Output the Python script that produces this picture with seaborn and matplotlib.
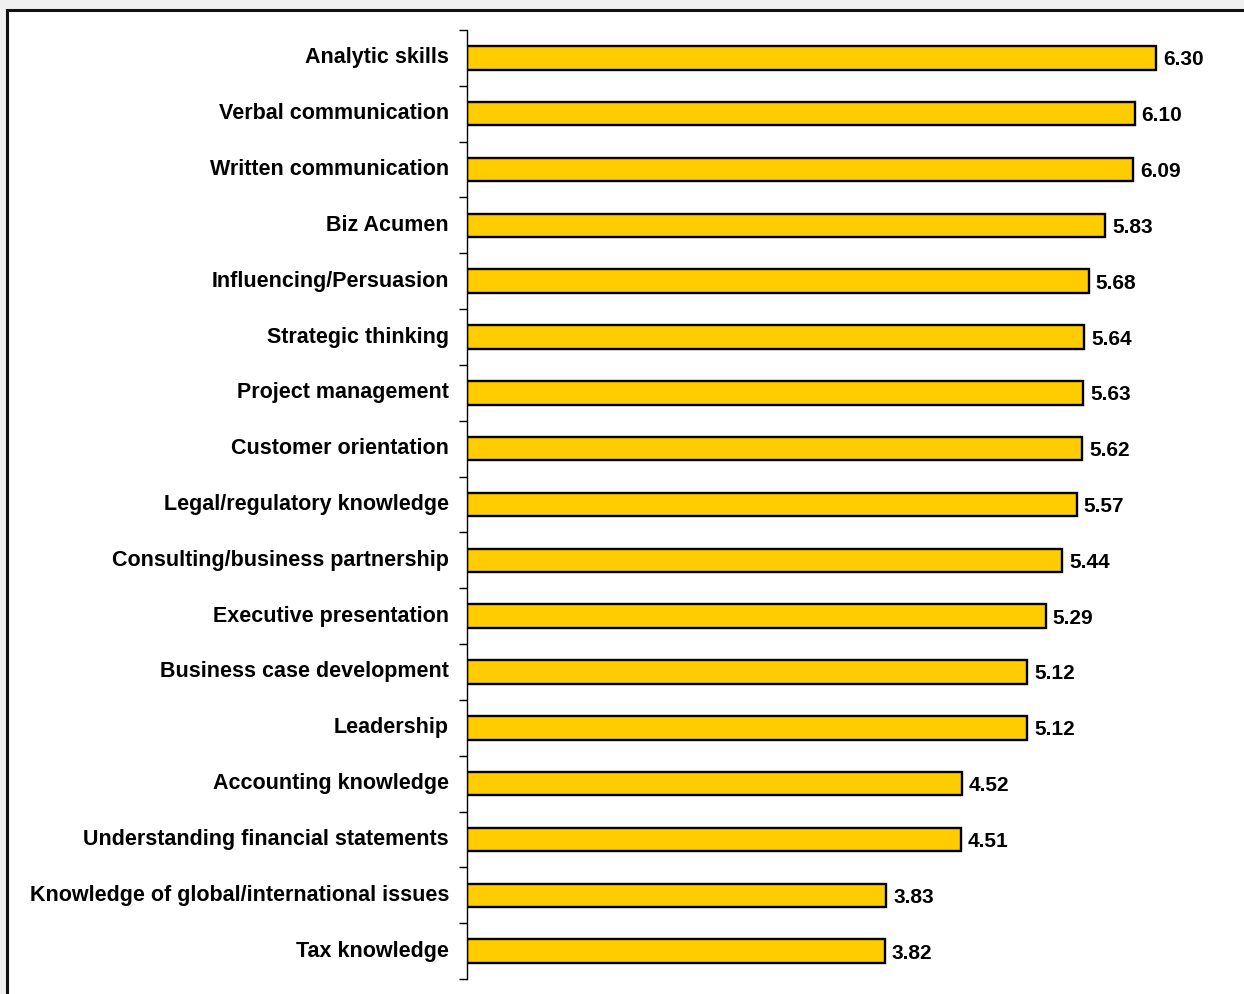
import matplotlib
matplotlib.use("Agg")
import matplotlib.pyplot as plt
import matplotlib.transforms as mtransforms
import seaborn as sns
import pandas as pd
from matplotlib.patches import Rectangle

categories = ["Analytic skills", "Verbal communication", "Written communication", "Biz Acumen",
              "Influencing/Persuasion", "Strategic thinking", "Project management",
              "Customer orientation", "Legal/regulatory knowledge",
              "Consulting/business partnership", "Executive presentation",
              "Business case development", "Leadership", "Accounting knowledge",
              "Understanding financial statements",
              "Knowledge of global/international issues", "Tax knowledge"]
values = [6.30, 6.10, 6.09, 5.83, 5.68, 5.64, 5.63, 5.62, 5.57, 5.44, 5.29, 5.12, 5.12,
          4.52, 4.51, 3.83, 3.82]

sns.set_theme(style="white")
plt.rcParams['font.family'] = ['Liberation Sans', 'DejaVu Sans']

df = pd.DataFrame({"skill": categories, "score": values})

W, H = 1244, 994
fig = plt.figure(figsize=(W / 100, H / 100), dpi=100)
fig.patch.set_facecolor("#F0F0F0")
frame = Rectangle((7.5 / W, -0.1), 1.2, 1 - 10 / H + 0.1,
                  transform=fig.transFigure, facecolor="white",
                  edgecolor="#111111", linewidth=2.2, zorder=-10)
fig.patches.append(frame)

ax = fig.add_axes([467 / W, 1 - 979 / H, 766 / W, 949 / H])
ax.set_zorder(5)
ax.set_facecolor("none")
sns.barplot(data=df, y="skill", x="score", orient="h", color="#FFCC00",
            saturation=1, width=0.42, edgecolor="black", linewidth=1.7, ax=ax)

ax.set_xlim(0, 7)
ax.set_ylim(len(categories) - 0.5, -0.5)
ax.set_xlabel("")
ax.set_ylabel("")
ax.set_xticks([])
for s in ["top", "right", "bottom"]:
    ax.spines[s].set_visible(False)
ax.spines["left"].set_color("black")
ax.spines["left"].set_linewidth(1.0)

ax.set_yticks(range(len(categories)))
ax.set_yticklabels(categories, fontsize=15.5, fontweight="bold", color="black")
ax.tick_params(axis="y", which="major", length=0, pad=13)
ax.set_yticks([i - 0.5 for i in range(len(categories) + 1)], minor=True)
ax.tick_params(axis="y", which="minor", left=True, length=5.5, width=1.0, color="black")

shift = mtransforms.ScaledTranslation(0, 2.5 / 100, fig.dpi_scale_trans)
for lab in ax.get_yticklabels():
    lab.set_transform(lab.get_transform() + shift)

for cont in ax.containers:
    texts = ax.bar_label(cont, labels=[f"{v:.2f}" for v in values], padding=5,
                         fontsize=15, fontweight="bold", color="black")
    for t in texts:
        t.set_va("center_baseline")

fig.savefig("out.png", dpi=100, facecolor=fig.get_facecolor())
